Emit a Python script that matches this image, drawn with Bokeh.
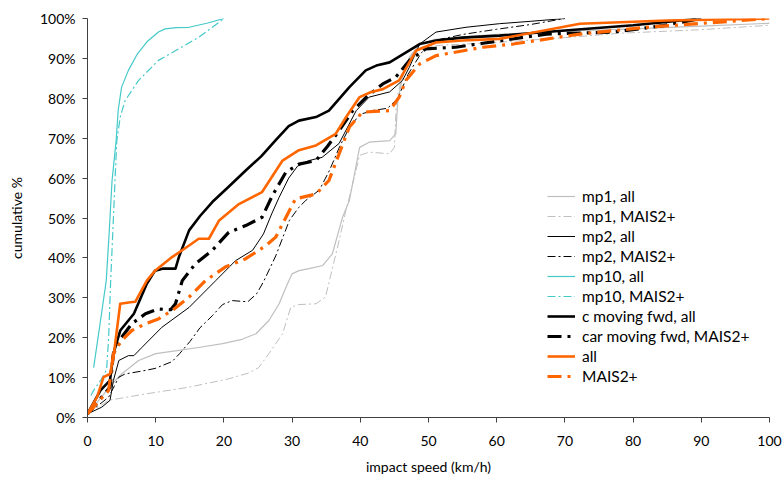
from bokeh.plotting import figure
from bokeh.models import Legend, LegendItem, FixedTicker, Range1d
from bokeh.embed import file_html
from bokeh.resources import INLINE

# ---------------- data ----------------
x_ticks = [0, 10, 20, 30, 40, 50, 60, 70, 80, 90, 100]
y_ticks = [0, 10, 20, 30, 40, 50, 60, 70, 80, 90, 100]

mp1_all_v = [0, 1.5, 3.6, 5, 7.5, 10, 13.4, 16.5, 19.8, 22.5, 24.7, 26.6, 28.1, 29.2, 30, 31, 32.5, 34.5,
             35.9, 37.4, 38.4, 39.9, 41.3, 44.3, 45.2, 45.5, 46.2, 47.2, 48.7, 51, 55, 60, 70, 80, 90, 100]
mp1_all_p = [0.9, 4, 8.4, 10.9, 14.3, 16, 16.8, 17.6, 18.5, 19.5, 21, 24.3, 28.5, 33, 36, 36.8, 37.3, 38.1,
             41, 50.2, 54.4, 67.7, 69, 69.4, 71.1, 79.4, 85.3, 90.3, 93.6, 94.8, 95.4, 96, 96.8, 97.4, 98.1, 98.8]

mp1_m2_v = [0, 1.6, 3.1, 8.5, 14.9, 20.7, 23.7, 25.1, 26.6, 28.6, 29.8, 31, 33.5, 34.9, 36.9, 37.9, 38.4,
            39.9, 41.3, 44.3, 45, 45.3, 46.2, 47.7, 49, 52, 60, 70, 78, 90, 100]
mp1_m2_p = [0.9, 2.6, 4.3, 5.9, 7.6, 9.7, 11.2, 12.5, 16, 21, 27.6, 28.3, 28.5, 30.2, 44.4, 52, 55.2,
            65.7, 66.5, 66.1, 67.7, 79.4, 86, 91.5, 92.8, 93.3, 94, 95.2, 96.3, 97.2, 98.3]

mp2_all_v = [0, 2.1, 3.3, 3.8, 4.6, 6, 6.8, 8, 10.9, 14.9, 18.8, 21.7, 24.2, 25.8, 27, 28.1, 29.5, 30.8,
             32.5, 34.4, 36.9, 39.4, 41.3, 44.3, 46.2, 47.2, 48.7, 51.1, 55.5, 60.4, 65, 70]
mp2_all_p = [0.9, 2.6, 4.3, 9.3, 14.3, 15.5, 15.5, 17.6, 22.6, 27.6, 34.3, 39.3, 41.9, 46, 51, 55.2, 60, 63,
             64.4, 65.2, 68.7, 76.9, 80.3, 81.6, 84.5, 87.8, 93.6, 96.6, 97.8, 98.7, 99.3, 100]

mp2_m2_v = [0, 3.1, 4.6, 5.5, 8.5, 9.9, 12.4, 13.5, 15, 16.5, 18.3, 19.8, 21.2, 23.5, 24.8, 25.8, 27.6,
            29.6, 31, 32, 34, 35.5, 37, 38.5, 40, 42, 44, 45.5, 47, 49, 51, 55, 60, 65, 70]
mp2_m2_p = [0.9, 5.1, 10.1, 10.9, 11.8, 12.3, 14, 16, 19, 22.5, 25.5, 28.3, 29.3, 29, 31, 34, 40.5,
            49.4, 52.7, 54.4, 57, 62, 68, 73, 76, 77, 77.5, 80, 86, 91.5, 94.5, 96, 97.3, 98.5, 100]

mp10_all_v = [0.9, 1.8, 2.75, 3.2, 3.6, 4.2, 4.5, 5.0, 6.0, 7.3, 8.8, 10.4, 11.4, 13, 14.9, 17.5, 20]
mp10_all_p = [12.5, 23, 34.3, 47, 59.4, 69.4, 77, 82.8, 87, 91.1, 94.3, 96.6, 97.4, 97.7, 97.8, 98.8, 100]

mp10_m2_v = [0.5, 0.9, 2, 2.8, 3.1, 3.4, 3.8, 4.05, 4.3, 4.8, 5.5, 7.5, 10.4, 13.4, 16.3, 19, 20]
mp10_m2_p = [5.5, 6.8, 9.5, 12, 20, 34.3, 50, 60.2, 69.4, 75.3, 79.4, 84.5, 89.5, 92.4, 95.3, 98.7, 100]

car_all_v = [0, 1.9, 3.3, 3.8, 4.8, 6.8, 8.7, 9.9, 11, 12.9, 13.4, 14.9, 16.5, 18.3, 20.5, 23.2, 25.5,
             27.6, 29.5, 31, 33.5, 35.4, 38.4, 40.8, 42.5, 44.3, 47.2, 48.7, 51.1, 55, 60.4, 70, 80, 90]
car_all_p = [0.9, 6.8, 9.3, 16, 21.8, 26, 33.5, 36.8, 37.3, 37.3, 40.2, 46.9, 50.5, 54, 57.5, 61.9, 65.5,
             69.5, 73, 74.4, 75.3, 76.9, 82.8, 87, 88.3, 89, 92, 93.6, 94.5, 95.2, 95.7, 97, 98.3, 100]

car_m2_v = [0, 3.3, 3.8, 5, 6.5, 8.5, 10.4, 12.2, 12.9, 13.9, 15.8, 18.3, 20.7, 23.2, 25.6, 27.1, 29.1,
            31, 33.5, 35.2, 36.9, 38.9, 41, 43.3, 45.2, 47.2, 49.6, 54, 58, 67.3, 77.1, 84.4, 90]
car_m2_p = [0.9, 7.6, 16, 20.1, 23.5, 26, 27.2, 27, 28.5, 34.3, 38.5, 41.9, 46.4, 48.1, 50.2, 55.6, 61.5,
            63.5, 64.4, 68, 71.9, 76.9, 80.5, 83.6, 85.3, 89.5, 92.4, 92.8, 93.8, 96.1, 96.6, 98.2, 100]

all_v = [0, 1.4, 2.35, 3.3, 3.8, 4.3, 4.8, 6.3, 7, 8.7, 9.9, 12.4, 14.9, 16.3, 17.8, 19.3, 22.2, 25.6,
         28.6, 31, 33.5, 36.4, 38, 39.9, 41.5, 43.3, 45.7, 48.2, 51.1, 55, 60.4, 72.2, 85, 100]
all_p = [0.9, 5.1, 10.1, 10.9, 15, 21.8, 28.5, 28.9, 29, 34.3, 36.8, 40.2, 43.1, 44.8, 44.8, 49.4, 53.5, 56.5,
         64.4, 67, 68.2, 71.1, 75.5, 80.3, 81.5, 82.3, 84.5, 92, 94, 94.5, 94.9, 98.7, 99.5, 100]

m2_v = [0, 3.1, 3.8, 5, 6.5, 8.5, 10.4, 12.4, 14.9, 17.3, 20.2, 23.2, 26.1, 27.6, 30.5, 33.5, 35.4, 36.9,
        38.4, 40.3, 42, 44.3, 45.7, 46.7, 48.7, 51.1, 58, 62.4, 72.2, 82, 94.3, 100]
m2_p = [0.9, 6.8, 16, 19.3, 21.8, 23.5, 24.7, 26.8, 30.2, 34.3, 37.7, 39.8, 43, 45.2, 54.8, 56, 59.4, 66.1,
        72.8, 76.5, 76.7, 76.9, 80.3, 84.5, 88.6, 90.7, 92.8, 93.6, 96.1, 97.8, 99.3, 100]

series_names = ["mp1, all", "mp1, MAIS2+", "mp2, all", "mp2, MAIS2+", "mp10, all", "mp10, MAIS2+",
                "c moving fwd, all", "car moving fwd, MAIS2+", "all", "MAIS2+"]

# ---------------- figure ----------------
FONT = "Lato"
GREY = "#bfbfbf"
CYAN = "#45c9c9"
ORANGE = "#ff6600"

p = figure(width=782, height=478, output_backend="svg", toolbar_location=None,
           x_range=Range1d(0, 100), y_range=Range1d(0, 100),
           min_border_left=87, min_border_right=13, min_border_top=18, min_border_bottom=61)
p.outline_line_color = None
p.xgrid.grid_line_color = None
p.ygrid.grid_line_color = None
p.background_fill_color = "white"
p.border_fill_color = "white"

styles = [
    dict(v=mp1_all_v, q=mp1_all_p, color=GREY, width=1.2, dash="solid"),
    dict(v=mp1_m2_v, q=mp1_m2_p, color=GREY, width=1.0, dash="8 3 2 3"),
    dict(v=mp2_all_v, q=mp2_all_p, color="black", width=1.0, dash="solid"),
    dict(v=mp2_m2_v, q=mp2_m2_p, color="black", width=1.0, dash="8 3 2 3"),
    dict(v=mp10_all_v, q=mp10_all_p, color=CYAN, width=1.2, dash="solid"),
    dict(v=mp10_m2_v, q=mp10_m2_p, color=CYAN, width=1.2, dash="8 3 2 3"),
    dict(v=car_all_v, q=car_all_p, color="black", width=2.6, dash="solid"),
    dict(v=car_m2_v, q=car_m2_p, color="black", width=3.2, dash="14 6 3 6"),
    dict(v=all_v, q=all_p, color=ORANGE, width=2.6, dash="solid"),
    dict(v=m2_v, q=m2_p, color=ORANGE, width=3.2, dash="14 6 3 6"),
]

items = []
for name, s in zip(series_names, styles):
    r = p.line(s["v"], s["q"], line_color=s["color"], line_width=s["width"], line_dash=s["dash"],
               line_join="round")
    items.append(LegendItem(label=name, renderers=[r]))

legend = Legend(items=items, location=(458, 29))
legend.label_text_font = FONT
legend.label_text_font_size = "15.5px"
legend.label_text_color = "black"
legend.glyph_width = 28
legend.glyph_height = 20
legend.label_height = 20
legend.spacing = 0
legend.padding = 2
legend.margin = 0
legend.label_standoff = 7
legend.border_line_alpha = 0
legend.background_fill_alpha = 0
p.add_layout(legend, "center")

for ax in (p.xaxis[0], p.yaxis[0]):
    ax.axis_line_color = "#404040"
    ax.axis_line_width = 1
    ax.major_tick_line_color = "#404040"
    ax.major_tick_in = 0
    ax.major_tick_out = 5
    ax.minor_tick_line_color = None
    ax.major_label_text_font = FONT
    ax.major_label_text_font_size = "14px"
    ax.major_label_text_color = "black"
    ax.axis_label_text_font = FONT
    ax.axis_label_text_font_size = "14px"
    ax.axis_label_text_font_style = "normal"
    ax.axis_label_text_color = "black"

p.xaxis.ticker = FixedTicker(ticks=x_ticks)
p.yaxis.ticker = FixedTicker(ticks=y_ticks)
p.yaxis.major_label_overrides = {t: f"{t}%" for t in y_ticks}
p.xaxis.axis_label = "impact speed (km/h)"
p.yaxis.axis_label = "cumulative %"
p.xaxis.major_label_standoff = 13
p.xaxis.axis_label_standoff = 9
p.yaxis.major_label_standoff = 7
p.yaxis.axis_label_standoff = 12

open("out.html", "w").write(file_html(p, INLINE))
